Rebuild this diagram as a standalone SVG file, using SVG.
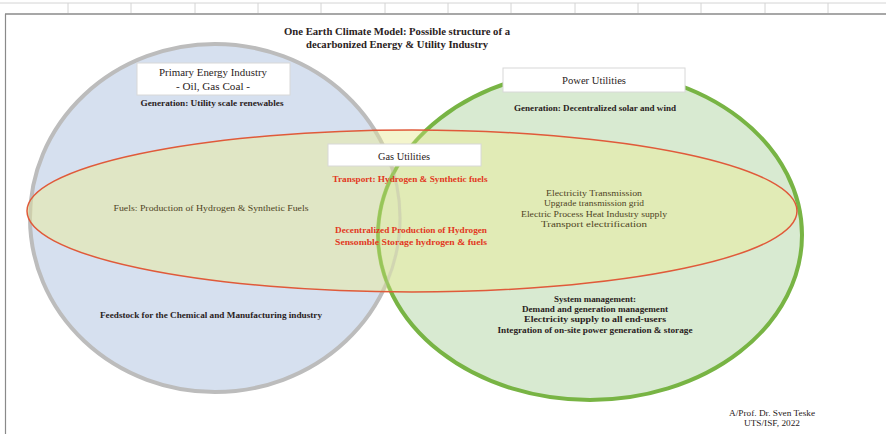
<svg xmlns="http://www.w3.org/2000/svg" width="886" height="434" viewBox="0 0 886 434">
<style>
  text { font-family: "Liberation Serif", "Times New Roman", serif; text-anchor: middle; fill: #2a2222; }
  .t { font-weight: bold; font-size: 10px; }
  .box { fill: #ffffff; stroke: #d8d8d8; stroke-width: 1; }
  .hd { font-size: 10.5px; }
  .b { font-weight: bold; font-size: 8.5px; }
  .r { font-weight: bold; font-size: 9px; fill: #e2381e; }
  .o { font-size: 9px; fill: #4e4424; }
  .grid { stroke: #d4d4d4; stroke-width: 1; }
</style>
<defs>
  <clipPath id="gasclip"><ellipse cx="412" cy="211" rx="385" ry="81"/></clipPath>
</defs>
<rect width="886" height="434" fill="#ffffff"/>
<g id="frame">
  <line class="grid" x1="0" y1="3" x2="886" y2="3"/>
  <g class="grid">
    <line x1="68" y1="3" x2="68" y2="13"/><line x1="131" y1="3" x2="131" y2="13"/><line x1="195" y1="3" x2="195" y2="13"/>
    <line x1="258" y1="3" x2="258" y2="13"/><line x1="321" y1="3" x2="321" y2="13"/><line x1="385" y1="3" x2="385" y2="13"/>
    <line x1="448" y1="3" x2="448" y2="13"/><line x1="511" y1="3" x2="511" y2="13"/><line x1="575" y1="3" x2="575" y2="13"/>
    <line x1="638" y1="3" x2="638" y2="13"/><line x1="701" y1="3" x2="701" y2="13"/><line x1="765" y1="3" x2="765" y2="13"/>
    <line x1="828" y1="3" x2="828" y2="13"/>
  </g>
  <line x1="5" y1="14" x2="886" y2="14" stroke="#8a8a8a" stroke-width="1.5"/>
  <line x1="5.5" y1="14" x2="5.5" y2="434" stroke="#8a8a8a" stroke-width="1.2"/>
</g>
<g id="primary-energy">
  <ellipse cx="215" cy="218" rx="185" ry="174" fill="#d6e0ef" stroke="#bcbcbc" stroke-width="4"/>
</g>
<g id="power-utilities">
  <ellipse cx="590" cy="235" rx="212" ry="165" fill="#d4e8cc" fill-opacity="0.9" stroke="#78b444" stroke-width="4"/>
</g>
<g id="gas-utilities">
  <ellipse cx="412" cy="211" rx="385" ry="81" fill="#eaec9c" fill-opacity="0.5"/>
  <g clip-path="url(#gasclip)" fill="none" stroke-width="3">
    <ellipse cx="215" cy="218" rx="185" ry="174" stroke="#c8c8b0" stroke-opacity="0.6"/>
    <ellipse cx="590" cy="235" rx="212" ry="165" stroke="#8cc050" stroke-opacity="0.7"/>
  </g>
  <ellipse cx="412" cy="211" rx="385" ry="81" fill="none" stroke="#e05a3a" stroke-width="1.5"/>
</g>
<g id="title">
  <text class="t" x="397" y="35" textLength="226" lengthAdjust="spacingAndGlyphs">One Earth Climate Model: Possible structure of a</text>
  <text class="t" x="397" y="48" textLength="182" lengthAdjust="spacingAndGlyphs">decarbonized Energy &amp; Utility Industry</text>
</g>
<g id="primary-labels">
  <rect class="box" x="137" y="63" width="153" height="32"/>
  <text class="hd" x="213" y="76" textLength="108" lengthAdjust="spacingAndGlyphs">Primary Energy Industry</text>
  <text class="hd" x="213" y="90" textLength="74" lengthAdjust="spacingAndGlyphs">- Oil, Gas Coal -</text>
  <text class="b" x="212" y="106" textLength="143" lengthAdjust="spacingAndGlyphs">Generation:  Utility scale renewables</text>
  <text class="o" x="211" y="211" textLength="195" lengthAdjust="spacingAndGlyphs">Fuels: Production of Hydrogen &amp; Synthetic Fuels</text>
  <text class="b" x="211" y="318" textLength="222" lengthAdjust="spacingAndGlyphs">Feedstock for the Chemical and Manufacturing  industry</text>
</g>
<g id="power-labels">
  <rect class="box" x="503" y="68" width="182" height="24"/>
  <text class="hd" x="594" y="84" textLength="64" lengthAdjust="spacingAndGlyphs">Power Utilities</text>
  <text class="b" x="595" y="111" textLength="162" lengthAdjust="spacingAndGlyphs">Generation: Decentralized solar and wind</text>
  <text class="o" x="594" y="196" textLength="96" lengthAdjust="spacingAndGlyphs">Electricity Transmission</text>
  <text class="o" x="594" y="206" textLength="100" lengthAdjust="spacingAndGlyphs">Upgrade transmission grid</text>
  <text class="o" x="594" y="217" textLength="146" lengthAdjust="spacingAndGlyphs">Electric Process Heat Industry supply</text>
  <text class="o" x="594" y="227" textLength="106" lengthAdjust="spacingAndGlyphs">Transport electrification</text>
  <text class="b" x="595" y="302" textLength="82" lengthAdjust="spacingAndGlyphs">System management:</text>
  <text class="b" x="595" y="312" textLength="146" lengthAdjust="spacingAndGlyphs">Demand and generation management</text>
  <text class="b" x="595" y="322" textLength="142" lengthAdjust="spacingAndGlyphs">Electricity supply to all end-users</text>
  <text class="b" x="595" y="333" textLength="195" lengthAdjust="spacingAndGlyphs">Integration of on-site power generation &amp; storage</text>
</g>
<g id="gas-labels">
  <rect class="box" x="328" y="144" width="153" height="22"/>
  <text class="hd" x="404" y="160" textLength="52" lengthAdjust="spacingAndGlyphs">Gas Utilities</text>
  <text class="r" x="410" y="182" textLength="155" lengthAdjust="spacingAndGlyphs">Transport:  Hydrogen &amp; Synthetic fuels</text>
  <text class="r" x="411" y="233" textLength="152" lengthAdjust="spacingAndGlyphs">Decentralized Production  of Hydrogen</text>
  <text class="r" x="411" y="245" textLength="152" lengthAdjust="spacingAndGlyphs">Sensomble Storage hydrogen &amp; fuels</text>
</g>
<g id="credit">
  <text x="772" y="416" font-size="8.5" textLength="86" lengthAdjust="spacingAndGlyphs">A/Prof. Dr. Sven Teske</text>
  <text x="772" y="426" font-size="8.5" textLength="56" lengthAdjust="spacingAndGlyphs">UTS/ISF, 2022</text>
</g>
<g id="connectors"></g>
</svg>
